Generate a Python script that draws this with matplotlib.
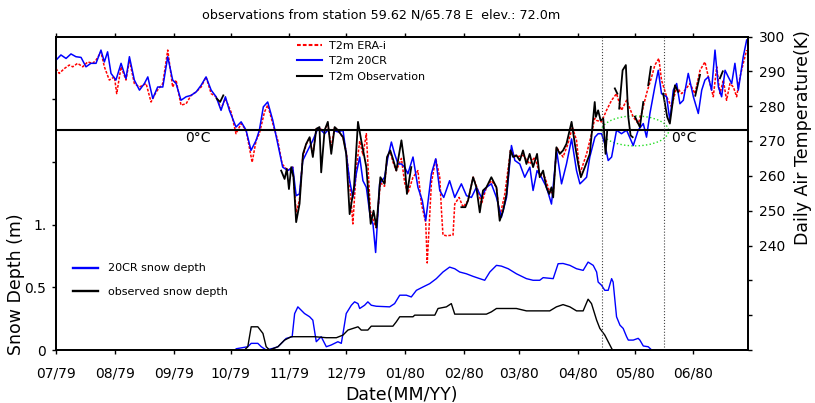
import datetime
import numpy as np
import matplotlib
matplotlib.use("Agg")
import matplotlib.pyplot as plt
import matplotlib.dates as mdates
from matplotlib.patches import Ellipse

# ---------------- data (days since 1979-07-01) ----------------
start_date = datetime.datetime(1979, 7, 1)
nan = np.nan

era_days = [0, 1.7, 4.4, 7.0, 8.8, 11.4, 14.1, 16.7, 19.3, 21.1, 23.7, 25.5, 28.1, 30.8, 32.0, 34.3,
            36.9, 38.7, 41.3, 44.0, 47.5, 50.1, 52.8, 56.3, 58.9, 61.5, 63.3, 65.9, 68.6, 71.2, 73.9,
            76.5, 79.1, 81.8, 84.4, 87.0, 89.3, 92.3, 94.9, 97.6, 100.2, 103.4, 105.5, 107.2, 109.9,
            111.6, 114.3, 116.9, 119.2, 122.2, 124.8, 126.6, 128.3, 130.1, 131.9, 133.7, 135.4, 137.2,
            138.9, 141.6, 143.3, 145.1, 146.9, 148.6, 151.3, 153.0, 154.8, 156.5, 158.3, 160.1, 161.8,
            163.6, 165.7, 167.4, 168.9, 171.0, 173.2, 174.5, 176.2, 177.6, 179.4, 182.1, 183.8, 185.5,
            188.2, 190.8, 192.6, 194.9, 195.7, 197.9, 200.2, 202.3, 203.2, 204.0, 206.0, 209.3, 210.2,
            212.5, 214.6, 217.2, 219.9, 222.5, 224.3, 226.9, 229.5, 232.2, 233.9, 236.6, 239.6, 242.7,
            246.2, 249.8, 252.4, 255.0, 257.7, 260.0, 262.1, 263.9, 267.3, 269.9, 272.2, 274.4, 276.2,
            279.7, 282.3, 284.0, 285.0, 287.6, 290.2, 292.9, 295.5, 298.1, 300.8, 304.3, 306.9, 308.7,
            311.3, 314.0, 315.7, 317.8, 319.2, 321.9, 324.5, 327.2, 329.8, 331.6, 334.2, 336.8, 339.5,
            342.1, 343.9, 346.5, 348.3, 350.0, 351.8, 353.5, 355.3, 357.1, 358.8, 360.6, 362.3, 364.1]
era_temp = [290.8, 289.4, 290.8, 291.8, 291.3, 292.3, 291.3, 292.7, 292.3, 293.2, 295.6, 291.3, 287.5,
            288.4, 283.6, 291.3, 287.5, 293.2, 286.5, 285.5, 286.5, 281.2, 284.1, 286.5, 296.1, 285.5,
            287.5, 280.3, 280.7, 283.1, 284.1, 285.5, 288.4, 283.6, 282.7, 279.3, 282.2, 278.3, 272.1,
            275.0, 273.1, 263.9, 270.2, 272.1, 278.3, 280.3, 275.0, 270.2, 263.4, 261.5, 262.5, 249.5,
            252.9, 265.4, 269.0, 271.0, 266.0, 273.5, 273.5, 273.0, 275.0, 268.0, 274.0, 273.0, 271.0,
            267.0, 258.0, 246.2, 262.0, 270.0, 266.0, 272.1, 250.0, 247.0, 245.0, 258.0, 257.0, 265.0,
            267.0, 264.0, 261.5, 265.0, 258.0, 255.0, 259.6, 261.5, 252.0, 246.6, 235.0, 258.0, 264.9,
            259.6, 250.0, 243.0, 242.8, 243.0, 251.9, 253.8, 251.0, 252.9, 259.6, 255.8, 251.9, 256.7,
            258.6, 256.7, 248.1, 254.8, 267.3, 265.4, 265.9, 263.4, 265.4, 260.6, 259.6, 255.8, 254.8,
            268.2, 265.4, 269.2, 274.0, 270.2, 260.6, 266.3, 272.0, 276.5, 275.9, 275.5, 278.8, 281.7,
            283.6, 278.8, 281.7, 276.9, 275.0, 277.9, 283.6, 288.4, 291.8, 293.7, 287.5, 282.7, 279.8,
            285.5, 283.6, 284.6, 286.5, 283.6, 290.3, 292.7, 288.4, 282.7, 291.3, 283.6, 287.5, 281.7,
            286.5, 285.5, 282.7, 288.4, 292.3, 296.1]

cr_days = [0, 2.6, 5.3, 7.9, 10.5, 13.2, 15.8, 18.4, 21.1, 23.7, 25.5, 27.2, 29.0, 31.6, 34.3, 36.9,
           38.7, 41.3, 44.0, 46.6, 48.4, 51.0, 53.6, 56.3, 58.9, 61.5, 63.3, 65.9, 68.6, 71.2, 73.9,
           76.5, 79.1, 81.8, 84.4, 87.0, 89.3, 91.4, 94.9, 97.6, 100.2, 102.8, 105.5, 107.2, 109.3,
           111.6, 114.3, 116.9, 119.5, 122.2, 124.8, 126.6, 128.3, 130.1, 132.7, 135.4, 138.0, 139.0,
           141.6, 143.3, 146.0, 148.6, 151.3, 153.0, 154.8, 156.5, 158.3, 160.1, 161.8, 163.6, 165.7,
           167.1, 168.5, 170.6, 173.2, 175.0, 176.8, 178.5, 180.3, 182.1, 183.8, 185.5, 188.2, 190.8,
           193.1, 194.9, 197.9, 200.2, 202.3, 204.4, 207.5, 210.2, 213.7, 216.4, 219.0, 221.6, 224.3,
           226.9, 229.5, 232.2, 234.8, 237.5, 240.1, 241.9, 244.5, 247.1, 249.8, 251.5, 253.6, 255.9,
           258.6, 261.2, 263.9, 266.5, 269.1, 271.8, 274.4, 276.2, 277.9, 279.7, 281.4, 284.1, 285.8,
           287.6, 289.3, 291.1, 292.9, 295.5, 298.1, 300.8, 304.3, 306.9, 309.6, 311.3, 313.1, 315.7,
           317.5, 319.2, 321.9, 323.6, 325.4, 327.2, 328.9, 330.7, 333.3, 336.0, 338.6, 340.4, 342.1,
           343.9, 345.6, 347.4, 349.2, 350.9, 352.7, 354.4, 356.2, 357.9, 359.7, 362.3, 364.1]
cr_temp = [293.2, 294.7, 293.7, 295.0, 294.2, 294.0, 291.3, 292.3, 292.3, 296.1, 292.7, 295.6, 289.4,
           287.5, 292.3, 287.9, 294.2, 287.5, 284.6, 286.5, 288.4, 282.2, 285.5, 285.5, 294.2, 287.5,
           286.5, 281.7, 282.7, 283.1, 284.1, 286.0, 288.4, 284.6, 282.7, 278.8, 282.7, 278.8, 274.0,
           275.5, 273.1, 267.3, 270.2, 273.1, 279.8, 281.2, 275.9, 269.2, 262.5, 261.5, 262.5, 254.3,
           254.8, 264.4, 267.3, 270.2, 273.5, 273.5, 272.1, 273.1, 273.1, 272.6, 273.1, 266.3, 258.6,
           253.8, 260.6, 265.4, 258.6, 256.7, 248.1, 246.2, 238.0, 257.7, 259.6, 265.4, 269.7, 266.3,
           263.4, 263.4, 262.5, 260.6, 265.4, 256.7, 252.9, 247.1, 260.6, 264.9, 255.8, 253.8, 258.6,
           253.8, 257.7, 254.3, 253.8, 256.7, 253.8, 256.7, 257.7, 253.8, 248.1, 253.8, 268.7, 264.4,
           263.4, 259.6, 262.5, 255.8, 261.5, 259.6, 256.7, 251.9, 267.3, 257.7, 263.4, 270.6, 261.5,
           257.7, 258.6, 259.6, 265.4, 271.1, 272.1, 272.1, 269.2, 264.4, 265.4, 273.1, 272.1, 273.1,
           268.7, 273.1, 275.0, 271.1, 277.9, 285.6, 290.3, 283.6, 282.7, 275.9, 284.6, 286.5, 280.7,
           281.7, 289.4, 282.7, 277.9, 284.6, 287.5, 288.4, 284.6, 296.1, 285.5, 282.7, 290.3, 288.4,
           286.5, 292.3, 284.6, 294.2, 299.0]

obs_days = [84.7, 86.5, 88.2, 89.0, 118.7, 120.5, 121.7, 122.8, 124.0, 125.2, 126.6, 128.4, 130.2,
            131.9, 133.7, 135.4, 137.2, 138.9, 139.8, 141.6, 143.3, 145.1, 146.9, 148.6, 151.3, 153.0,
            154.8, 157.1, 159.2, 160.9, 163.6, 165.9, 167.4, 168.9, 171.0, 173.2, 174.5, 176.2, 177.6,
            179.4, 182.1, 183.8, 185.0, 187.3, 188.0, 213.7, 215.8, 217.2, 219.9, 221.6, 223.4, 225.1,
            226.9, 229.5, 232.2, 233.9, 235.7, 237.5, 239.6, 241.0, 242.7, 244.5, 246.2, 248.0, 249.7,
            251.5, 253.6, 255.0, 256.8, 258.5, 260.0, 261.2, 262.1, 263.8, 265.6, 267.3, 269.1, 271.8,
            273.5, 275.3, 276.7, 278.8, 281.4, 284.0, 284.6, 285.8, 287.1, 288.5, 289.7, 290.6, 292.0,
            294.6, 295.9, 296.4, 296.9, 298.7, 300.4, 301.7, 302.9, 304.0, 304.6, 305.2, 307.8, 309.6,
            310.9, 312.2, 313.6, 317.0, 320.1, 322.2, 323.6, 326.3, 328.0, 332.0, 337.0, 339.5, 345.0,
            350.0, 351.5]
obs_temp = [282.2, 281.2, 283.1, nan, 261.5, 259.1, 262.0, 256.2, 262.5, 259.6, 246.7, 252.0, 266.3,
            269.2, 271.1, 265.4, 273.5, 274.0, 261.0, 273.1, 275.5, 266.3, 274.0, 273.1, 271.1, 266.3,
            249.0, 256.7, 275.5, 270.2, 262.5, 246.2, 250.0, 245.2, 259.6, 257.7, 265.4, 267.3, 264.9,
            261.5, 270.2, 263.4, 254.8, 262.5, nan, 251.0, 251.0, 252.9, 259.6, 256.7, 249.5, 255.8,
            256.7, 259.6, 256.7, 247.1, 250.0, 254.8, 267.3, 265.4, 265.9, 264.4, 267.3, 263.4, 266.3,
            262.5, 266.3, 259.6, 261.5, 256.7, 254.8, 256.7, 253.8, 268.2, 266.3, 267.3, 269.2, 275.5,
            269.2, 263.4, 259.6, 262.5, 266.3, 281.2, 276.9, 278.8, 275.9, 276.4, 266.3, 273.1, nan,
            285.1, 283.6, nan, 279.3, 290.3, 291.8, 276.9, 271.6, 271.1, nan, 277.0, 274.0, 281.2,
            nan, 286.0, 291.3, nan, 283.6, 276.9, 275.0, 286.0, 284.1, nan, 283.0, 289.0, nan,
            288.0, 290.0]

snow_cr_days = [95.0, 101.1, 102.9, 106.4, 108.2, 110.8, 114.3, 117.0, 121.3, 124.5, 125.8, 127.5,
                131.0, 133.7, 135.4, 137.2, 139.8, 142.5, 145.1, 148.6, 150.4, 151.3, 153.0, 155.7,
                157.4, 159.2, 160.1, 162.7, 164.4, 166.2, 168.8, 175.9, 178.5, 181.2, 184.7, 187.3,
                190.0, 193.5, 197.0, 200.5, 204.0, 207.5, 210.2, 212.8, 216.3, 219.9, 223.4, 226.0,
                228.7, 232.2, 234.8, 238.4, 242.7, 248.0, 251.5, 255.0, 256.8, 262.1, 264.7, 267.3,
                270.9, 274.4, 277.9, 280.5, 283.2, 285.0, 285.8, 287.6, 289.3, 291.1, 292.9, 293.7,
                295.5, 297.3, 299.0, 300.8, 301.7, 304.3, 306.9, 307.8, 309.6, 312.2, 314.0, 365.0]
snow_cr = [0.01, 0.026, 0.053, 0.053, 0.026, 0.0, 0.013, 0.026, 0.092, 0.106, 0.29, 0.344,
           0.291, 0.265, 0.238, 0.066, 0.106, 0.026, 0.040, 0.066, 0.053, 0.132, 0.291, 0.357,
           0.384, 0.370, 0.331, 0.357, 0.384, 0.357, 0.349, 0.344, 0.370, 0.437, 0.437, 0.423,
           0.476, 0.503, 0.529, 0.569, 0.622, 0.661, 0.648, 0.622, 0.608, 0.587, 0.569, 0.556,
           0.622, 0.675, 0.669, 0.648, 0.608, 0.569, 0.556, 0.556, 0.577, 0.569, 0.688, 0.690,
           0.675, 0.648, 0.635, 0.701, 0.675, 0.622, 0.542, 0.516, 0.476, 0.476, 0.569, 0.542,
           0.265, 0.198, 0.172, 0.106, 0.079, 0.079, 0.093, 0.079, 0.032, 0.026, 0.0, 0.0]

snow_obs_days = [99.4, 101.1, 102.9, 106.4, 109.1, 110.8, 112.6, 117.0, 120.5, 124.0, 128.4, 136.3,
                 142.5, 147.8, 151.3, 153.9, 159.2, 160.9, 164.4, 166.2, 177.6, 179.4, 181.2, 188.2,
                 189.1, 199.7, 201.4, 205.8, 208.4, 210.2, 226.9, 229.5, 232.2, 242.7, 248.0, 260.3,
                 263.8, 267.3, 270.9, 274.4, 277.9, 280.5, 282.3, 285.0, 286.7, 289.3, 291.1, 292.9,
                 293.4]
snow_obs = [0.0, 0.026, 0.185, 0.185, 0.132, 0.026, 0.0, 0.026, 0.079, 0.106, 0.106, 0.106,
            0.098, 0.098, 0.119, 0.159, 0.185, 0.159, 0.159, 0.190, 0.190, 0.225, 0.265, 0.265,
            0.278, 0.278, 0.331, 0.344, 0.370, 0.286, 0.286, 0.304, 0.331, 0.331, 0.312, 0.312,
            0.344, 0.362, 0.344, 0.312, 0.312, 0.405, 0.370, 0.238, 0.172, 0.119, 0.066, 0.013,
            0.0]

melt_markers = [287.6, 320.6]          # dotted vertical lines (days)
ellipse_center = (305.2, 272.9)        # (day, K)
ellipse_size = (35.4, 8.6)             # (days, K)
freezing_K = 273.15
title_text = "observations from station 59.62 N/65.78 E  elev.: 72.0m"

# ---------------- plotting ----------------
base = mdates.date2num(start_date)


def to_x(days):
    return base + np.asarray(days, dtype=float)


fig = plt.figure(figsize=(8.15, 4.03), dpi=100)
ax1 = fig.add_axes([56 / 815, 1 - 350 / 403, 692 / 815, 313.5 / 403])
ax2 = ax1.twinx()

# snow depth (left axis)
ax1.plot(to_x(snow_cr_days), snow_cr, color="#0000ff", lw=1.0, label="20CR snow depth")
ax1.plot(to_x(snow_obs_days), snow_obs, color="black", lw=1.0, label="observed snow depth")
ax1.set_ylim(0, 2.5)
ax1.set_yticks([0, 0.5, 1.0, 1.5, 2.0])
ax1.set_yticklabels(["0", "0.5", "1.", "", ""])
ax1.set_xlim(base, base + 364.8)
ax1.xaxis.set_major_locator(mdates.MonthLocator())
ax1.xaxis.set_major_formatter(mdates.DateFormatter("%m/%y"))
ax1.tick_params(axis="both", direction="out", length=3, width=1, labelsize=10)
ax1.tick_params(axis="x", top=True, pad=9)
ax1.tick_params(axis="y", pad=4)
ax1.set_xlabel("Date(MM/YY)", fontsize=12.5)
ax1.xaxis.set_label_coords(0.4986, -0.1435)
ax1.xaxis.label.set_verticalalignment("center")
ax1.set_ylabel("Snow Depth (m)", fontsize=12.5)
ax1.yaxis.set_label_coords(-0.058, 0.21)
ax1.yaxis.label.set_verticalalignment("center")

leg1 = ax1.legend(loc="upper left", bbox_to_anchor=(0.0246, 0.276), frameon=False, fontsize=8,
                  borderpad=0, borderaxespad=0, handlelength=2.25, handletextpad=0.9,
                  labelspacing=1.25)
for h in leg1.legend_handles:
    h.set_linewidth(1.7)

# temperatures (right axis)
ax2.plot(to_x(era_days), era_temp, color="#ff0000", lw=1.1, linestyle=(0, (1.8, 1.0)),
         label="T2m ERA-i")
ax2.plot(to_x(cr_days), cr_temp, color="#0000ff", lw=1.1, label="T2m 20CR")
ax2.plot(to_x(obs_days), obs_temp, color="black", lw=1.3, label="T2m Observation")
ax2.axhline(freezing_K, color="black", lw=1.5)
for d in melt_markers:
    ax2.axvline(base + d, color="#444444", lw=0.8, linestyle=":")
ax2.add_patch(Ellipse((base + ellipse_center[0], ellipse_center[1]), ellipse_size[0], ellipse_size[1],
                      fill=False, edgecolor="#22dd22", lw=1.0, linestyle=":"))
ax2.text(base + 75, 270.8, "0°C", fontsize=10, ha="center", va="center")
ax2.text(base + 331, 271.0, "0°C", fontsize=10, ha="center", va="center")

ax2.set_ylim(210, 300)
temp_ticks = list(range(210, 301, 10))
ax2.set_yticks(temp_ticks)
ax2.set_yticklabels([str(t) if t >= 240 else "" for t in temp_ticks])
ax2.tick_params(axis="y", direction="out", length=3, width=1, labelsize=10, pad=5)
ax2.set_ylabel("Daily Air Temperature(K)", fontsize=12.5)
ax2.yaxis.set_label_coords(1.0795, 0.679)
ax2.yaxis.label.set_verticalalignment("center")
ax2.yaxis.label.set_horizontalalignment("center")

leg2 = ax2.legend(loc="upper left", bbox_to_anchor=(0.348, 0.987), frameon=False, fontsize=8,
                  borderpad=0, borderaxespad=0, handlelength=2.25, handletextpad=0.63)
for h in leg2.legend_handles:
    h.set_linewidth(1.5)

for ax in (ax1, ax2):
    for s in ax.spines.values():
        s.set_linewidth(1.3)

fig.text(381 / 815, 1 - 15 / 403, title_text, fontsize=9.2, ha="center", va="center")

fig.savefig("out.png", dpi=100)
